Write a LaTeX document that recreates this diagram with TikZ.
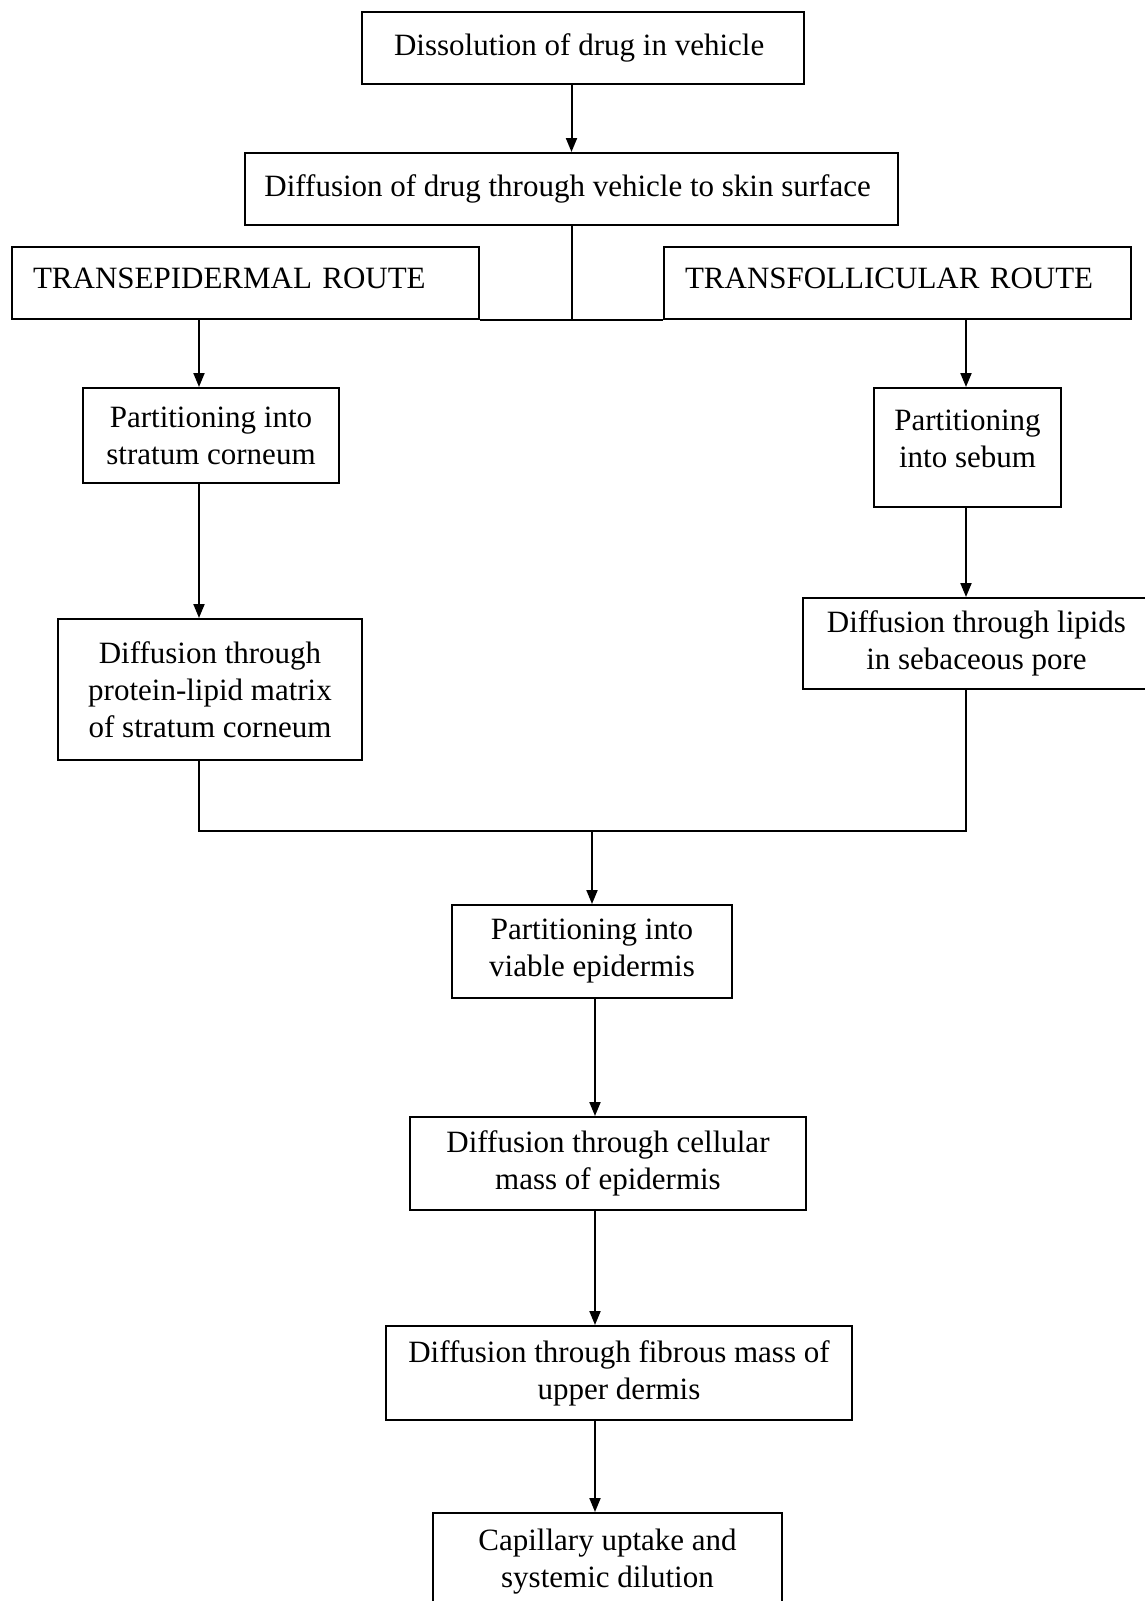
\documentclass[tikz,border=0pt]{standalone}
\usepackage{fontspec}
\setmainfont{Liberation Serif}
\usepackage{tikz}
\usetikzlibrary{
  positioning,
  arrows.meta,
  calc
}

\begin{document}
\begin{tikzpicture}[
  x=1pt, y=-1pt,
  font=\fontsize{31}{37}\selectfont,
  stepbox/.style={
    rectangle,
    draw=black,
    line width=2pt,
    inner sep=0pt,
    align=center
  },
  routebox/.style={
    stepbox,
    align=left,
    text width=425pt,
    inner xsep=21pt,
    minimum height=72pt
  },
  flow/.style={
    -{Triangle[length=14pt, width=11pt]},
    line width=2pt
  },
  link/.style={
    line width=2pt
  }
]
\useasboundingbox (0,0) rectangle (1145,1601);

% Row 1: Vehicle (top)
\node[stepbox, minimum width=442pt, minimum height=72pt] (dis) at (583, 48) {
  Dissolution of drug in vehicle
};

\node[stepbox, minimum width=653pt, minimum height=72pt] (veh) at (571.5, 189) {
  Diffusion of drug through vehicle to skin surface
};

% Row 2: Routes
\node[routebox] (tep) at (245.5, 283) {TRANSEPIDERMAL ROUTE\rule[-10pt]{0pt}{10pt}};
\node[routebox] (tfp) at (897.5, 283) {TRANSFOLLICULAR ROUTE\rule[-10pt]{0pt}{10pt}};

% Left column: Transepidermal
\node[stepbox, minimum width=256pt, minimum height=95pt] (psc) at (211, 435.5) {
  Partitioning into\\
  stratum corneum
};

\node[stepbox, minimum width=304pt, minimum height=141pt] (dpl) at (210, 689.5) {
  Diffusion through\\
  protein-lipid matrix\\
  of stratum corneum
};

% Right column: Transfollicular
\node[stepbox, minimum width=187pt, minimum height=119pt] (pse) at (967.5, 447.5) {
  Partitioning\\
  into sebum\rule[-18pt]{0pt}{18pt}
};

\node[stepbox, minimum width=347pt, minimum height=91pt] (dls) at (976.5, 643.5) {
  Diffusion through lipids\\
  in sebaceous pore
};

% Bottom column: Skin layers
\node[stepbox, minimum width=280pt, minimum height=93pt] (pve) at (592, 951.5) {
  Partitioning into\\
  viable epidermis
};

\node[stepbox, minimum width=396pt, minimum height=93pt] (dcm) at (608, 1163.5) {
  Diffusion through cellular\\
  mass of epidermis
};

\node[stepbox, minimum width=466pt, minimum height=94pt] (dfm) at (619, 1373) {
  Diffusion through fibrous mass of\\
  upper dermis
};

\node[stepbox, minimum width=349pt, minimum height=97pt] (cap) at (607.5, 1561.5) {
  Capillary uptake and\\
  systemic dilution
};

% Column lines
\coordinate (lc) at (199, 0);
\coordinate (rc) at (966, 0);
\coordinate (mc) at (595, 0);
\coordinate (mrg) at (592, 831);

% Connections
\draw[flow] (dis.south -| veh.north) -- (veh.north);
\draw[link] (veh.south) -- (veh.south |- tep.south);
\draw[link] (tep.south east) -- (tfp.south west);

\draw[flow] (lc |- tep.south) -- (lc |- psc.north);
\draw[flow] (lc |- psc.south) -- (lc |- dpl.north);
\draw[flow] (rc |- tfp.south) -- (rc |- pse.north);
\draw[flow] (rc |- pse.south) -- (rc |- dls.north);

% Merge of both routes
\draw[link] (lc |- dpl.south) -- (lc |- mrg) -- (rc |- mrg) -- (rc |- dls.south);
\draw[flow] (mrg) -- (pve.north);

\draw[flow] (mc |- pve.south) -- (mc |- dcm.north);
\draw[flow] (mc |- dcm.south) -- (mc |- dfm.north);
\draw[flow] (mc |- dfm.south) -- (mc |- cap.north);

\end{tikzpicture}
\end{document}
